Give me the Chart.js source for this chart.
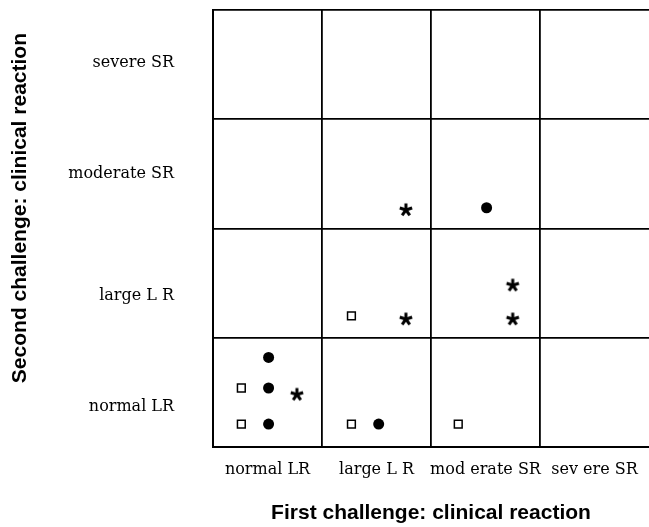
<!DOCTYPE html>
<html>
<head>
<meta charset="utf-8">
<script src="https://cdn.jsdelivr.net/npm/chart.js@4.4.0/dist/chart.umd.min.js"></script>
<style>
  body { margin: 0; background: #fff; }
</style>
</head>
<body>
<canvas id="myChart" width="649" height="527"></canvas>
<script>
// categories (both axes use the same scale)
var categories = ["normal LR", "large L R", "mod erate SR", "sev ere SR"];
var yCategories = ["normal LR", "large L R", "moderate SR", "severe SR"];
// where the y category labels sit (they are not quite centred in the rows)
var yLabelPos = [0.37, 1.38, 2.5, 3.52];

// open squares
var squareX = [0.26, 0.26, 1.27, 2.25, 1.27];
var squareY = [0.54, 0.21, 0.21, 0.21, 1.20];

// filled circles
var circleX = [0.51, 0.51, 0.51, 1.52, 2.51];
var circleY = [0.82, 0.54, 0.21, 0.21, 2.19];

// asterisks
var starX = [0.77, 1.77, 2.75, 2.75, 1.77];
var starY = [0.48, 1.17, 1.48, 1.17, 2.17];

const toPoints = (xs, ys) => xs.map((x, i) => ({ x: x, y: ys[i] }));

// asterisk marker drawn on a little canvas
var star = document.createElement("canvas");
star.width = 16; star.height = 16;
var sc = star.getContext("2d");
sc.strokeStyle = "#000";
sc.lineWidth = 3;
for (let k = 0; k < 5; k++) {
    let a = -Math.PI / 2 + k * 2 * Math.PI / 5;
    sc.beginPath();
    sc.moveTo(8, 8);
    sc.lineTo(8 + 6.5 * Math.cos(a), 8 + 6.5 * Math.sin(a));
    sc.stroke();
}

const isInt = (v) => Math.abs(v - Math.round(v)) < 0.001;

const xLabel = (v) => {
    let i = Math.floor(v);
    return (Math.abs(v - i - 0.5) < 0.01 && categories[i]) ? categories[i] : "";
};
const yLabel = (v) => {
    let i = yLabelPos.findIndex(p => Math.abs(p - v) < 0.001);
    return i >= 0 ? yCategories[i] : "";
};
const gridCol = (ctx) => {
    let v = ctx.tick ? ctx.tick.value : null;
    if (v === null || !isInt(v)) return "rgba(0,0,0,0)";
    if (v > 0 && v < 4) return "#000";
    return (v === 4 && ctx.scale.axis === "y") ? "#000" : "rgba(0,0,0,0)";
};

new Chart("myChart", {
    type: "scatter",
    data: {
        datasets: [
            { data: toPoints(squareX, squareY), pointStyle: "rect", pointRadius: 5.5,
              backgroundColor: "#fff", borderColor: "#000", borderWidth: 1.5 },
            { data: toPoints(circleX, circleY), pointStyle: "circle", pointRadius: 5.5,
              backgroundColor: "#000", borderColor: "#000", borderWidth: 0 },
            { data: toPoints(starX, starY), pointStyle: star, pointRadius: 8 }
        ]
    },
    options: {
        responsive: false,
        animation: false,
        layout: { autoPadding: false, padding: { top: 10, left: 8, right: 0, bottom: 1 } },
        plugins: { legend: { display: false }, tooltip: { enabled: false } },
        scales: {
            x: {
                type: "linear", min: 0, max: 4,
                afterFit: (s) => { s.height = 79; s.paddingLeft = 0; s.paddingRight = 0; },
                ticks: { stepSize: 0.5, autoSkip: false, maxRotation: 0, padding: 13,
                         color: "#000", font: { family: "DejaVu Serif", size: 16 },
                         callback: xLabel },
                grid: { color: gridCol, lineWidth: 1.8, drawTicks: false },
                border: { color: "#000", width: 2 },
                title: { display: true, text: "First challenge: clinical reaction", color: "#000",
                         font: { family: "Liberation Sans", size: 21, weight: "bold" }, padding: 0 }
            },
            y: {
                type: "linear", min: 0, max: 4,
                afterBuildTicks: (s) => {
                    let vals = [0, 1, 2, 3, 4].concat(yLabelPos).sort((a, b) => a - b);
                    s.ticks = vals.map(v => ({ value: v }));
                },
                afterFit: (s) => { s.width = 205; s.paddingTop = 0; s.paddingBottom = 0; },
                ticks: { autoSkip: false, padding: 39,
                         color: "#000", font: { family: "DejaVu Serif", size: 16 },
                         callback: yLabel },
                grid: { color: gridCol, lineWidth: 1.8, drawTicks: false },
                border: { color: "#000", width: 2 },
                title: { display: true, text: "       Second challenge: clinical reaction", color: "#000",
                         font: { family: "Liberation Sans", size: 21, weight: "bold" }, padding: 0 }
            }
        }
    }
});
</script>
</body>
</html>
